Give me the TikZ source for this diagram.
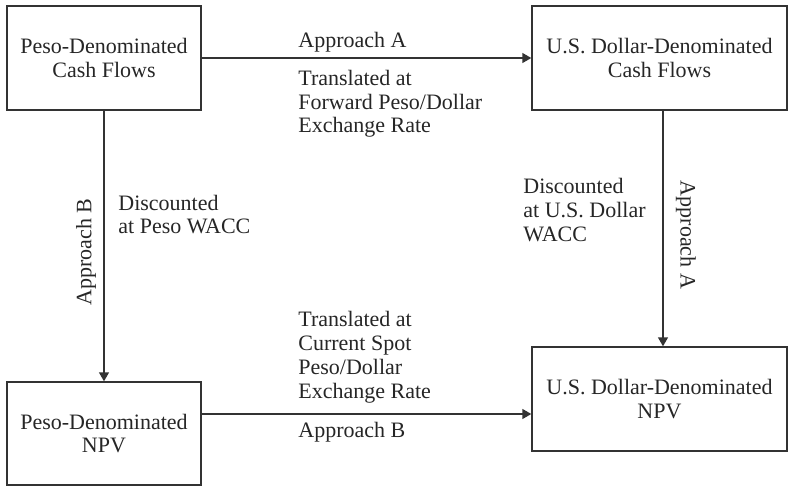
\documentclass[tikz,border=0pt]{standalone}
\usepackage{fontspec}
\setmainfont{Liberation Serif}
\usetikzlibrary{arrows.meta}
\begin{document}
\begin{tikzpicture}[x=0.5pt, y=-0.5pt,
        every node/.style={font=\fontsize{11}{11.85}\selectfont, text=black!85},
        box/.style={draw=black!80, line width=0.7pt, inner sep=0pt, align=center},
        arr/.style={draw=black!80, line width=0.7pt, -{Triangle[length=4.5pt, width=5pt]}},
        lbl/.style={align=left, inner sep=0pt, anchor=base west}]
        \useasboundingbox (0, 0) rectangle (789, 487);
        \node[box, minimum width=97pt, minimum height=52pt] (pcf) at (104, 58) {Peso-Denominated\\Cash Flows};
        \node[box, minimum width=127.5pt, minimum height=52pt] (dcf) at (659.5, 58) {U.S. Dollar-Denominated\\Cash Flows};
        \node[box, minimum width=97pt, minimum height=51.5pt] (pnpv) at (104, 433.5) {Peso-Denominated\\NPV};
        \node[box, minimum width=127.5pt, minimum height=52pt] (dnpv) at (659.5, 399) {U.S. Dollar-Denominated\\NPV};

        \draw[arr] (pcf) -- (dcf);
        \draw[arr] (pcf) -- (pnpv);
        \draw[arr] ([xshift=1.75pt]dcf.south) -- ([xshift=1.75pt]dnpv.north);
        \draw[arr] ([yshift=9.75pt]pnpv.east) -- ([yshift=-7.5pt]dnpv.west);

        \node[lbl] (appa) at (298, 47.5) {Approach A};
        \node[lbl] (fwd) at (298, 133) {Translated at\\Forward Peso/Dollar\\Exchange Rate};
        \node[lbl] (pwacc) at (118, 234) {Discounted\\at Peso WACC};
        \node[lbl] (dwacc) at (523, 241) {Discounted\\at U.S. Dollar\\WACC};
        \node[lbl] (spot) at (298, 398) {Translated at\\Current Spot\\Peso/Dollar\\Exchange Rate};
        \node[lbl] (appb) at (298, 437) {Approach B};
        \node[rotate=90, inner sep=0pt] (appbv) at (86, 252) {Approach B};
        \node[rotate=-90, inner sep=0pt] (appav) at (686, 235) {Approach A};
    \end{tikzpicture}
\end{document}
